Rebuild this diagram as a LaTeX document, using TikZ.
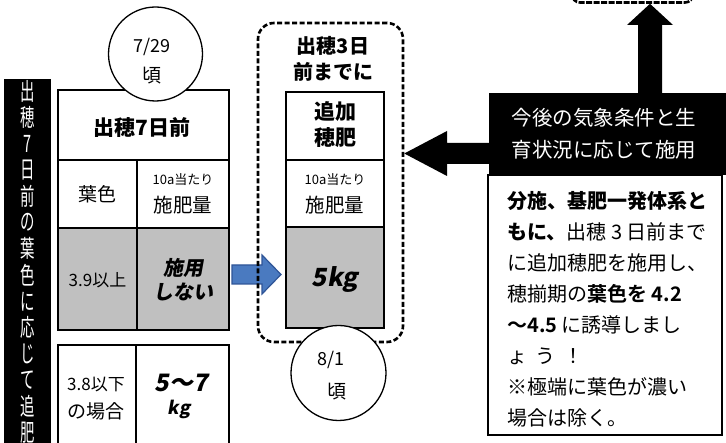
\documentclass[tikz,border=0pt]{standalone}
\usepackage{fontspec}
\usetikzlibrary{calc}
\setmainfont{Noto Sans CJK JP}
\newfontfamily\jpr{Noto Sans CJK JP}
\newfontfamily\jpt[FakeStretch=0.6]{Noto Sans CJK JP}
\IfFontExistsTF{Noto Sans CJK JP Bold}
  {\newfontfamily\jpb{Noto Sans CJK JP Bold}}
  {\newfontfamily\jpb[FakeBold=2]{Noto Sans CJK JP}}
\IfFontExistsTF{Noto Sans CJK JP Black}
  {\newfontfamily\jph{Noto Sans CJK JP Black}\newfontfamily\jphi[FakeSlant=0.18]{Noto Sans CJK JP Black}}
  {\IfFontExistsTF{Noto Sans CJK JP Bold}
     {\newfontfamily\jph[FakeBold=1.2]{Noto Sans CJK JP Bold}\newfontfamily\jphi[FakeBold=1.2,FakeSlant=0.18]{Noto Sans CJK JP Bold}}
     {\newfontfamily\jph[FakeBold=3]{Noto Sans CJK JP}\newfontfamily\jphi[FakeBold=3,FakeSlant=0.18]{Noto Sans CJK JP}}}
\newcommand\fsz[1]{\fontsize{#1}{#1}\selectfont}
\definecolor{cellgray}{HTML}{C0C0C0}
\definecolor{arrblue}{HTML}{4A7AC0}
\definecolor{arrblued}{HTML}{2F5597}
\begin{document}
\begin{tikzpicture}[x=1pt,y=-1pt,
  cell/.style={draw=black,line width=2.6pt,inner sep=0pt,fill=white},
  gcell/.style={cell,fill=cellgray},
  txt/.style={inner sep=0pt,anchor=center},
  datec/.style={circle,draw=black,line width=1.3pt,fill=white,inner sep=0pt,minimum size=#1},
  tline/.style={inner sep=0pt,anchor=west,font=\jpr\fsz{20}},
  fatarrow/.style={fill=black}]
\useasboundingbox (0,0) rectangle (726,443);
\clip (0,0) rectangle (726,443);

% left vertical bar
\node[fill=black,inner sep=0pt,minimum width=47pt,minimum height=370pt] (bar) at (27.5,264) {};
\foreach \c [count=\i from 0] in {出,穂,7,日,前,の,葉,色,に,応,じ,て,追,肥}
  \node[txt,text=white,font=\jpt\fsz{24}] (v\i) at (27.5,91+\i*26.3) {\c};

% table 1
\node[cell,minimum width=171pt,minimum height=70pt] (t1h) at (143.5,125) {};
\node[cell,minimum width=79pt,minimum height=68pt] (t1a) at (97.5,194) {};
\node[cell,minimum width=92pt,minimum height=68pt] (t1b) at (183,194) {};
\node[gcell,minimum width=79pt,minimum height=102pt] (t1c) at (97.5,279) {};
\node[gcell,minimum width=92pt,minimum height=102pt] (t1d) at (183,279) {};
% table 2
\node[cell,minimum width=78pt,minimum height=125pt] (t2a) at (97,407.5) {};
\node[cell,minimum width=93pt,minimum height=125pt] (t2b) at (182.5,407.5) {};

% table 3
\node[cell,minimum width=98pt,minimum height=68pt] (t3h) at (335,126) {};
\node[cell,minimum width=98pt,minimum height=67pt] (t3a) at (335,193.5) {};
\node[gcell,minimum width=98pt,minimum height=101pt] (t3b) at (335,277.5) {};

% blue arrow
\draw[fill=arrblue,draw=arrblued,line width=1.2pt,line join=miter]
  (232,265) -- (262,265) -- (262,255) -- (281,274.5) -- (262,294) -- (262,284) -- (232,284) -- cycle;

% dashed region
\node[draw=black,line width=2.6pt,dash pattern=on 5pt off 2.5pt,rounded corners=16pt,
      inner sep=0pt,minimum width=145pt,minimum height=319pt] (dz) at (330.5,182.5) {};

% circles
\node[datec=94pt] (c1) at (155.5,54) {};
\node[datec=95pt] (c2) at (338.5,373) {};

% text box
\node[draw=black,line width=1.5pt,inner sep=0pt,minimum width=234pt,minimum height=260pt] (tb) at (605,305) {};
% black box
\node[fill=black,inner sep=0pt,minimum width=241pt,minimum height=82pt] (bb) at (609.5,134) {};

% top partial dashed shape
\node[draw=black,line width=2.6pt,dash pattern=on 6pt off 1.5pt,rounded corners=8pt,
      inner sep=0pt,minimum width=121pt,minimum height=30pt] (topz) at (632.5,-12.5) {};

% fat arrows
\path[fatarrow] (bb.west |- 0,143) -- (447,143) -- (447,131) -- (dz.east |- 0,153.5)
  -- (447,176) -- (447,164) -- (bb.west |- 0,164) -- cycle;
\path[fatarrow] (638,0 |- bb.north) -- (638,25) -- (627,25) -- (650,0 |- topz.south)
  -- (673,25) -- (662,25) -- (662,0 |- bb.north) -- cycle;

% texts
\node[txt,font=\jpr\fsz{18}] (c1a) at (152,47) {7/29};
\node[txt,font=\jpr\fsz{19}] (c1b) at (152,76) {頃};
\node[txt,font=\jpr\fsz{18}] (c2a) at (331,360) {8/1};
\node[txt,font=\jpr\fsz{19}] (c2b) at (337,392) {頃};

\node[txt,font=\jph\fsz{21}] (t1ht) at (142,128) {出穂7日前};
\node[txt,font=\jpr\fsz{19}] (t1at) at (97.5,194) {葉色};
\node[txt,font=\jpr\fsz{13}] (t1bt1) at (183,180) {10a当たり};
\node[txt,font=\jpr\fsz{19.5}] (t1bt2) at (183,205) {施肥量};
\node[txt,font=\jpr\fsz{17}] (t1ct) at (97.5,280) {3.9以上};
\node[txt,font=\jphi\fsz{20}] (t1dt1) at (183,268) {施用};
\node[txt,font=\jphi\fsz{20}] (t1dt2) at (183,292) {しない};

\node[txt,font=\jpr\fsz{17}] (t2at1) at (96,385) {3.8以下};
\node[txt,font=\jpr\fsz{19}] (t2at2) at (96,411) {の場合};
\node[txt,font=\jphi\fsz{24}] (t2bt1) at (181,383) {5〜7};
\node[txt,font=\jphi\fsz{18}] (t2bt2) at (179,409) {kg};

\node[txt,font=\jph\fsz{20}] (dzt1) at (333,46) {出穂3日};
\node[txt,font=\jph\fsz{20}] (dzt2) at (333,72) {前までに};
\node[txt,font=\jph\fsz{21}] (t3ht1) at (335,112) {追加};
\node[txt,font=\jph\fsz{21}] (t3ht2) at (335,138) {穂肥};
\node[txt,font=\jpr\fsz{13}] (t3at1) at (335,180) {10a当たり};
\node[txt,font=\jpr\fsz{19.5}] (t3at2) at (335,205) {施肥量};
\node[txt,font=\jphi\fsz{25}] (t3bt) at (335,280) {5kg};

\node[txt,text=white,font=\jpr\fsz{20.5}] (bbt1) at (604,118) {今後の気象条件と生};
\node[txt,text=white,font=\jpr\fsz{20.5}] (bbt2) at (604,150) {育状況に応じて施用};

\node[tline] (l1) at (507,201) {{\jph 分施、基肥一発体系と}};
\node[tline] (l2) at (507,232) {{\jph もに、}出穂 3 日前まで};
\node[tline] (l3) at (507,263) {に追加穂肥を施用し、};
\node[tline] (l4) at (507,294) {穂揃期の{\jpb 葉色を 4.2}};
\node[tline] (l5) at (507,325) {{\jpb 〜4.5} に誘導しまし};
\node[tline] (l6) at (507,356) {ょ\hspace{8pt}う\hspace{8pt}！};
\node[tline] (l7) at (507,387) {※極端に葉色が濃い};
\node[tline] (l8) at (507,418) {場合は除く。};
\end{tikzpicture}
\end{document}
